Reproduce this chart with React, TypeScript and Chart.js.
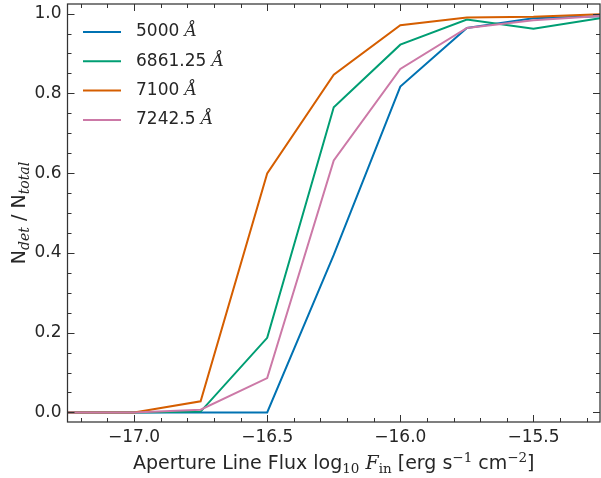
import React, { useEffect, useRef } from "react";
import { Chart, registerables } from "chart.js";

Chart.register(...registerables);

const fluxBins = [-17.25, -17.0, -16.75, -16.5, -16.25, -16.0, -15.75, -15.5, -15.25];
const frac5000 = [0, 0, 0, 0, 0.395, 0.817, 0.964, 0.988, 0.993];
const frac6861 = [0, 0, 0.002, 0.187, 0.765, 0.922, 0.985, 0.962, 0.988];
const frac7100 = [0, 0, 0.028, 0.599, 0.847, 0.971, 0.99, 0.992, 0.998];
const frac7242 = [0, 0, 0.007, 0.086, 0.632, 0.861, 0.964, 0.983, 0.994];

const seriesNames = ["5000", "6861.25", "7100", "7242.5"];
const seriesColors = ["#0072B2", "#009E73", "#D55E00", "#CC79A7"];

const xMajorTicks = [-17.0, -16.5, -16.0, -15.5];
const xMinorTicks = [-17.2, -17.1, -16.9, -16.8, -16.7, -16.6, -16.4, -16.3, -16.2, -16.1, -15.9, -15.8, -15.7, -15.6, -15.4, -15.3];
const yMajorTicks = [0.0, 0.2, 0.4, 0.6, 0.8, 1.0];
const yMinorTicks = [0.05, 0.1, 0.15, 0.25, 0.3, 0.35, 0.45, 0.5, 0.55, 0.65, 0.7, 0.75, 0.85, 0.9, 0.95];

const TEXT = "#262626";
const SANS = "'DejaVu Sans', sans-serif";
const SERIF = "'DejaVu Serif', serif";

type Seg = { t: string; font: string; dy?: number };

function drawRich(ctx: CanvasRenderingContext2D, segs: Seg[], x: number, y: number) {
  let total = 0;
  for (const s of segs) {
    ctx.font = s.font;
    total += ctx.measureText(s.t).width;
  }
  let cx = x - total / 2;
  for (const s of segs) {
    ctx.font = s.font;
    ctx.fillText(s.t, cx, y + (s.dy || 0));
    cx += ctx.measureText(s.t).width;
  }
}

function fmt(v: number) {
  const s = Math.abs(v).toFixed(1);
  return v < 0 ? "\u2212" + s : s;
}

const decorPlugin = {
  id: "decor",
  afterDatasetsDraw(chart: any) {
    const ctx: CanvasRenderingContext2D = chart.ctx;
    const { left, right, top, bottom } = chart.chartArea;
    const xs = chart.scales.x;
    const ys = chart.scales.y;
    ctx.save();
    // ticks
    ctx.strokeStyle = "#333333";
    ctx.lineWidth = 1;
    const major = 7, minor = 4;
    ctx.beginPath();
    for (const v of xMajorTicks) {
      const px = Math.round(xs.getPixelForValue(v)) + 0.5;
      ctx.moveTo(px, bottom); ctx.lineTo(px, bottom - major);
      ctx.moveTo(px, top); ctx.lineTo(px, top + major);
    }
    for (const v of xMinorTicks) {
      const px = Math.round(xs.getPixelForValue(v)) + 0.5;
      ctx.moveTo(px, bottom); ctx.lineTo(px, bottom - minor);
      ctx.moveTo(px, top); ctx.lineTo(px, top + minor);
    }
    for (const v of yMajorTicks) {
      const py = Math.round(ys.getPixelForValue(v)) + 0.5;
      ctx.moveTo(left, py); ctx.lineTo(left + major, py);
      ctx.moveTo(right, py); ctx.lineTo(right - major, py);
    }
    for (const v of yMinorTicks) {
      const py = Math.round(ys.getPixelForValue(v)) + 0.5;
      ctx.moveTo(left, py); ctx.lineTo(left + minor, py);
      ctx.moveTo(right, py); ctx.lineTo(right - minor, py);
    }
    ctx.stroke();
    // frame
    ctx.lineWidth = 1.25;
    ctx.strokeStyle = "#333333";
    ctx.strokeRect(left, top, right - left, bottom - top);

    // tick labels
    ctx.fillStyle = TEXT;
    ctx.font = "17px " + SANS;
    ctx.textAlign = "center";
    ctx.textBaseline = "middle";
    for (const v of xMajorTicks) {
      ctx.fillText(fmt(v), xs.getPixelForValue(v), bottom + 16);
    }
    ctx.textAlign = "right";
    for (const v of yMajorTicks) {
      ctx.fillText(fmt(v), left - 6, ys.getPixelForValue(v));
    }

    // x title
    ctx.textAlign = "left";
    ctx.textBaseline = "alphabetic";
    const big = "19px " + SANS;
    const sub = "13.5px " + SERIF;
    const it = "italic 19px " + SERIF;
    drawRich(ctx, [
      { t: "Aperture Line Flux log", font: big },
      { t: "10", font: sub, dy: 4 },
      { t: " ", font: big },
      { t: "F", font: it },
      { t: "in", font: sub, dy: 4 },
      { t: " [erg s", font: big },
      { t: "\u22121", font: sub, dy: -7 },
      { t: " cm", font: big },
      { t: "\u22122", font: sub, dy: -7 },
      { t: "]", font: big },
    ], (left + right) / 2, 469);

    // y title
    ctx.save();
    ctx.translate(25, (top + bottom) / 2);
    ctx.rotate(-Math.PI / 2);
    drawRich(ctx, [
      { t: "N", font: big },
      { t: "det", font: "italic 14px " + SERIF, dy: 4 },
      { t: " / N", font: big },
      { t: "total", font: "italic 14px " + SERIF, dy: 4 },
    ], 0, 0);
    ctx.restore();

    // legend
    const ly0 = 32, lstep = 29.3;
    for (let i = 0; i < seriesNames.length; i++) {
      const ly = ly0 + i * lstep;
      ctx.strokeStyle = seriesColors[i];
      ctx.lineWidth = 2;
      ctx.beginPath();
      ctx.moveTo(83, ly);
      ctx.lineTo(121, ly);
      ctx.stroke();
      ctx.textAlign = "left";
      ctx.textBaseline = "middle";
      ctx.fillStyle = TEXT;
      ctx.font = "17px " + SANS;
      const label = seriesNames[i] + " ";
      ctx.fillText(label, 136, ly);
      const w = ctx.measureText(label).width;
      ctx.font = "italic 17px " + SERIF;
      ctx.fillText("\u00C5", 136 + w, ly);
    }
    ctx.restore();
  },
};

export default function App() {
  const ref = useRef<HTMLCanvasElement | null>(null);
  useEffect(() => {
    if (!ref.current) return;
    const allSeries = [frac5000, frac6861, frac7100, frac7242];
    const chart = new Chart(ref.current, {
      type: "line",
      data: {
        datasets: allSeries.map((s, i) => ({
          label: seriesNames[i] + " Å",
          data: fluxBins.map((x, j) => ({ x, y: s[j] })),
          borderColor: seriesColors[i],
          backgroundColor: seriesColors[i],
          borderWidth: 2,
          pointRadius: 0,
          tension: 0,
          fill: false,
          order: 3 - i,
        })),
      },
      options: {
        responsive: false,
        animation: false,
        devicePixelRatio: 1,
        layout: { padding: { left: 67.5, right: 1, top: 4, bottom: 56 } },
        plugins: { legend: { display: false }, tooltip: { enabled: false } },
        scales: {
          x: { type: "linear", min: -17.25, max: -15.25, display: false },
          y: { type: "linear", min: -0.024, max: 1.024, display: false },
        },
      },
      plugins: [decorPlugin],
    } as any);
    return () => chart.destroy();
  }, []);
  return (
    <div style={{ position: "absolute", left: 0, top: 0, width: 601, height: 478, background: "#fff" }}>
      <canvas ref={ref} width={601} height={478} style={{ display: "block" }} />
    </div>
  );
}
